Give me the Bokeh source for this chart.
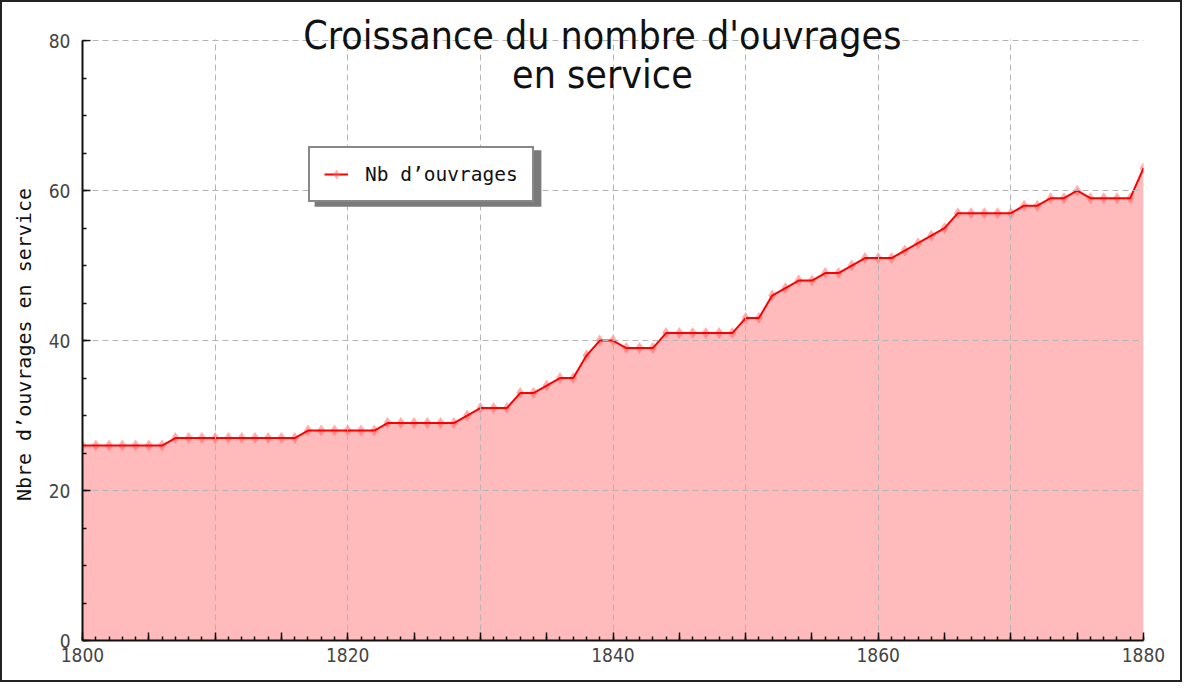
from bokeh.plotting import figure
from bokeh.models import (Range1d, SingleIntervalTicker, Label, Legend, LegendItem,
                          BoxAnnotation, CustomJSTickFormatter)
from bokeh.embed import file_html
from bokeh.resources import INLINE

# ---- data ----
years = list(range(1800, 1881))
counts = [26, 26, 26, 26, 26, 26, 26,
          27, 27, 27, 27, 27, 27, 27, 27, 27, 27,
          28, 28, 28, 28, 28, 28,
          29, 29, 29, 29, 29, 29,
          30, 31, 31, 31, 33, 33, 34, 35, 35, 38,
          40, 40, 39, 39, 39,
          41, 41, 41, 41, 41, 41,
          43, 43, 46, 47, 48, 48, 49, 49, 50,
          51, 51, 51, 52, 53, 54, 55,
          57, 57, 57, 57, 57,
          58, 58, 59, 59, 60, 59, 59, 59, 59, 63]
title_lines = ["Croissance du nombre d'ouvrages", "en service"]
legend_label = "Nb d\u2019ouvrages"
y_label = "Nbre d\u2019ouvrages en service"

X0, X1 = 1800, 1880
Y0, Y1 = 0, 80
Y_TOP = 83.76   # extra headroom inside the frame for the title

TICK_FONT = "'Liberation Sans Narrow', 'DejaVu Sans Condensed', sans-serif"
MONO = "DejaVu Sans Mono"
TITLE_FONT = "'DejaVu Sans Condensed', 'DejaVu Sans', sans-serif"

p = figure(width=1182, height=682, x_range=Range1d(X0, X1), y_range=Range1d(Y0, Y_TOP),
           output_backend="svg", toolbar_location=None,
           min_border_left=80, min_border_right=41, min_border_top=10, min_border_bottom=44)
p.styles = {"border": "2px solid #222", "box-sizing": "border-box"}
p.outline_line_color = None
p.background_fill_color = "white"
p.border_fill_color = "white"

# area, markers, line
p.varea(x=years, y1=0, y2=counts, fill_color="#ffbbbb", level="underlay")
sc = p.scatter(years, counts, marker="diamond", size=12, fill_color="#ff5c5c",
               fill_alpha=0.5, line_color=None)
ln = p.line(years, counts, line_color="#ff0000", line_width=2)

# axes
xa = p.xaxis[0]
xa.ticker = SingleIntervalTicker(interval=5, num_minor_ticks=5)
xa.formatter = CustomJSTickFormatter(code="return (Math.round(tick) % 20 == 0) ? String(Math.round(tick)) : '';")
ya = p.yaxis[0]
ya.ticker = SingleIntervalTicker(interval=20, num_minor_ticks=4)
ya.bounds = (Y0, Y1)
for ax in (xa, ya):
    ax.axis_line_color = "#111111"
    ax.axis_line_width = 2
    ax.major_tick_in = 8
    ax.major_tick_out = 0
    ax.minor_tick_in = 4
    ax.minor_tick_out = 0
    ax.major_tick_line_color = "#111111"
    ax.minor_tick_line_color = "#111111"
    ax.major_tick_line_width = 1.5
    ax.minor_tick_line_width = 1.5
    ax.major_label_text_font = TICK_FONT
    ax.major_label_text_font_size = "19px"
    ax.major_label_text_color = "#444444"
xa.major_label_standoff = 7
ya.major_label_standoff = 12
# trailing no-break spaces shift the centred label down to sit on the 0..80 span
ya.axis_label = y_label + "\u00a0\u00a0\u00a0"
ya.axis_label_text_font = MONO
ya.axis_label_text_font_size = "20px"
ya.axis_label_text_font_style = "normal"
ya.axis_label_text_color = "#111111"
ya.axis_label_standoff = 10

# grid
p.xgrid[0].ticker = SingleIntervalTicker(interval=10, num_minor_ticks=0)
p.ygrid[0].ticker = SingleIntervalTicker(interval=20, num_minor_ticks=0)
for g in (p.xgrid[0], p.ygrid[0]):
    g.grid_line_color = "#b4b4b4"
    g.grid_line_dash = "6 4"
    g.grid_line_width = 1
    g.level = "glyph"

# white mask above the top of the value axis (keeps grid lines out of the title area)
p.add_layout(BoxAnnotation(bottom=Y1 + 0.15, fill_color="white", fill_alpha=1.0,
                           line_color=None, level="annotation"))

# title (inside plot area)
xc = 1839.2
for txt, yy in zip(title_lines, [80.7, 75.5]):
    p.add_layout(Label(x=xc, y=yy, text=txt, text_align="center", text_baseline="alphabetic",
                       text_font=TITLE_FONT, text_font_size="39px", text_color="#111111",
                       level="overlay"))

# legend shadow
p.add_layout(BoxAnnotation(left=1817.5, right=1834.6, top=65.4, bottom=57.85,
                           fill_color="#7a7a7a", fill_alpha=1.0, line_color=None))
legend = Legend(items=[LegendItem(label=legend_label, renderers=[ln, sc])],
                location=(226, 438), margin=0, padding=14,
                border_line_color="#111111", border_line_width=2,
                background_fill_color="white", background_fill_alpha=1.0,
                label_text_font=MONO, label_text_font_size="19.5px", label_text_color="#111111",
                glyph_width=24, glyph_height=24, label_height=24, label_standoff=17)
p.add_layout(legend, "center")

open("out.html", "w").write(file_html(p, INLINE))
